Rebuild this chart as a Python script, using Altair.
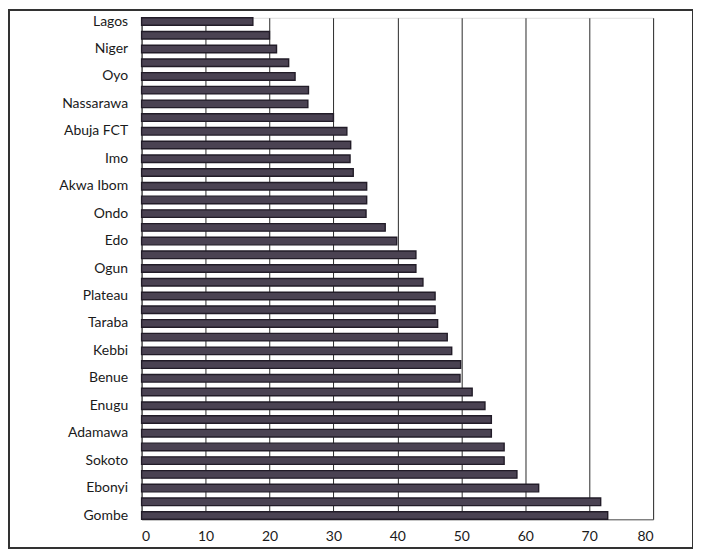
import altair as alt
import pandas as pd

# Bars top to bottom (every other bar is labelled in the original)
states = [
    "Lagos", "Osun", "Niger", "Kwara", "Oyo", "Ekiti", "Nassarawa", "Delta",
    "Abuja FCT", "Rivers", "Imo", "Anambra", "Akwa Ibom", "Abia", "Ondo", "Kogi",
    "Edo", "Cross River", "Ogun", "Bayelsa", "Plateau", "Kaduna", "Taraba", "Kano",
    "Kebbi", "Borno", "Benue", "Katsina", "Enugu", "Bauchi", "Adamawa", "Yobe",
    "Sokoto", "Zamfara", "Ebonyi", "Jigawa", "Gombe",
]
values = [
    17.4, 20.0, 21.1, 23.0, 24.0, 26.1, 26.0, 30.0,
    32.1, 32.7, 32.6, 33.1, 35.2, 35.2, 35.1, 38.1,
    39.9, 42.9, 42.9, 44.0, 45.9, 45.9, 46.3, 47.8,
    48.5, 49.9, 49.8, 51.7, 53.7, 54.7, 54.7, 56.7,
    56.7, 58.7, 62.1, 71.8, 72.9,
]
shown_labels = states[0::2]
x_ticks = [0, 10, 20, 30, 40, 50, 60, 70, 80]

df = pd.DataFrame({"state": states, "value": values})

W, H = 513, 503

bars = alt.Chart(df).mark_bar(
    fill="#4a4252", stroke="#221c28", strokeWidth=1.4
).encode(
    x=alt.X("value:Q", scale=alt.Scale(domain=[0, 80], nice=False),
            axis=alt.Axis(values=x_ticks, title=None, grid=True, gridColor="#2a2a2a",
                          gridWidth=1, gridOpacity=1, domain=True, domainColor="#555555",
                          ticks=False, labelPadding=10, labelFontSize=14,
                          labelFont="Lato", labelColor="#1a1a1a")),
    y=alt.Y("state:N", sort=states,
            scale=alt.Scale(paddingInner=0.45, paddingOuter=0.0),
            axis=alt.Axis(values=shown_labels, title=None, ticks=False, domain=True,
                          domainColor="#555555", labelPadding=14, labelFontSize=14,
                          labelFont="Lato", labelColor="#1a1a1a",
                          labelOverlap=False)),
)

frame = alt.Chart(df).mark_rect(filled=False, stroke="#333333", strokeWidth=1.5, clip=False).encode(
    x=alt.value(-133), x2=alt.value(W + 40), y=alt.value(-8), y2=alt.value(H + 29)
)

chart = alt.layer(bars, frame).properties(
    width=W, height=H,
    autosize=alt.AutoSizeParams(type="none"),
    padding={"left": 134, "top": 9, "right": 40, "bottom": 33},
).configure_view(stroke=None).configure(background="white")

chart.save("out.html", embed_options={"renderer": "svg", "actions": False})
